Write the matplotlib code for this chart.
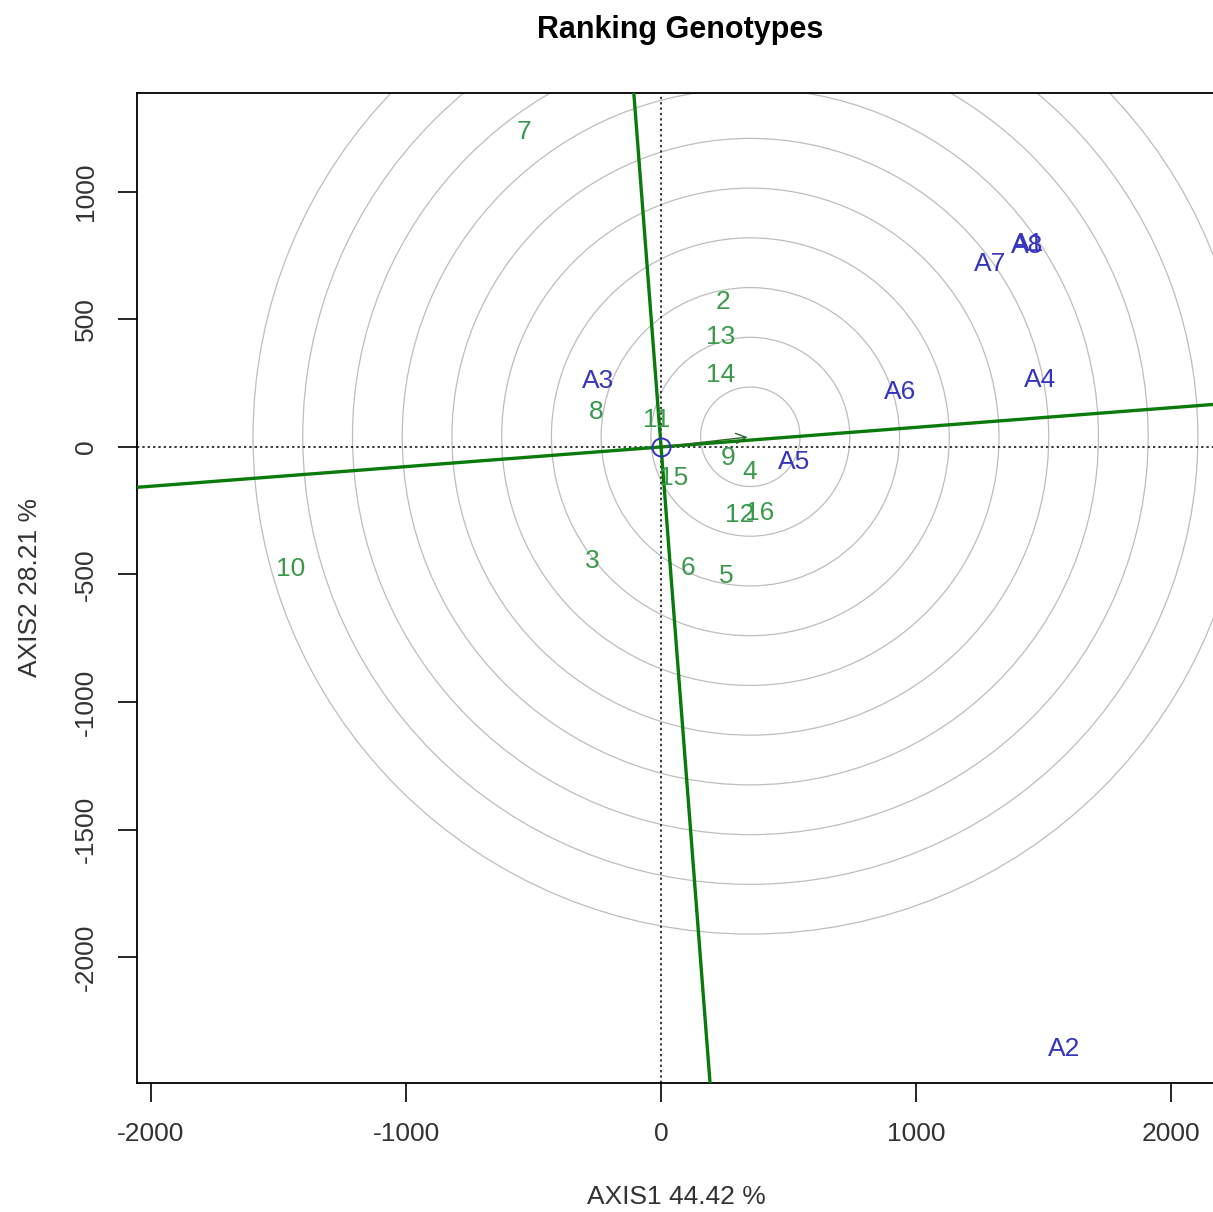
import numpy as np
import matplotlib
matplotlib.use('Agg')
import matplotlib.pyplot as plt
from matplotlib.patches import Circle

plt.rcParams['font.family'] = ['Liberation Sans', 'DejaVu Sans']
plt.rcParams['axes.unicode_minus'] = False

# Genotype scores (AXIS1, AXIS2)
gen_labels = ['7', '2', '13', '14', '8', '11', '15', '9', '4', '12', '16', '3', '6', '5', '10']
gen_x = [-539, 242, 234, 234, -254, -16, 51, 262, 348, 309, 387, -270, 105, 254, -1453]
gen_y = [1235, 569, 431, 282, 137, 106, -122, -43, -98, -267, -259, -447, -475, -506, -478]

# Environment scores
env_labels = ['A3', 'A6', 'A4', 'A7', 'A8', 'A1', 'A5', 'A2']
env_x = [-246, 938, 1488, 1289, 1434, 1440, 520, 1582]
env_y = [259, 216, 263, 718, 788, 796, -59, -2361]

# average environment point / ideal genotype centre
aea_x, aea_y = 350, 40
ring_step = 195
n_rings = 10
aea_slope = 0.077

W, H = 1213, 1212
fig = plt.figure(figsize=(W / 100, H / 100), dpi=100)
xlim = (-2055, 2250)
ylim = (-2494, 1388)
left, bottom, top = 137, 1083, 93
scale = (bottom - top) / (ylim[1] - ylim[0])
right = left + (xlim[1] - xlim[0]) * scale
ax = fig.add_axes([left / W, 1 - bottom / H, (right - left) / W, (bottom - top) / H])
ax.set_xlim(*xlim)
ax.set_ylim(*ylim)

# concentric circles
for i in range(1, n_rings + 1):
    ax.add_patch(Circle((aea_x, aea_y), ring_step * i, fill=False,
                        ec='#bdbdbd', lw=0.9, zorder=1))

# reference dotted axes
ax.axhline(0, color='black', ls=(0, (1.5, 2)), lw=1.1, zorder=2)
ax.axvline(0, color='black', ls=(0, (1.5, 2)), lw=1.1, zorder=2)

# average environment axis and its perpendicular
xx = np.array([-3000, 3000])
ax.plot(xx, aea_slope * xx, color='#0a7a0a', lw=2.4, zorder=3)
yy = np.array([-3000, 3000])
ax.plot(-aea_slope * yy, yy, color='#0a7a0a', lw=2.4, zorder=3)
ax.annotate('', xy=(aea_x, aea_y), xytext=(0, 0),
            arrowprops=dict(arrowstyle='->', color='#2a6a2a', lw=1.0,
                            mutation_scale=18), zorder=4)

# origin marker
ax.plot(0, 0, 'o', mfc='none', mec='#3333bb', ms=13, mew=1.4, zorder=5)

for lab, x, y in zip(gen_labels, gen_x, gen_y):
    ax.text(x, y, lab, color='#3a9a4a', fontsize=19, ha='center', va='center', zorder=6)
for lab, x, y in zip(env_labels, env_x, env_y):
    ax.text(x, y, lab, color='#3535c0', fontsize=19, ha='center', va='center', zorder=6)

# R-like axes
ax.spines['right'].set_visible(False)
for s in ['left', 'bottom', 'top']:
    ax.spines[s].set_linewidth(1.3)
ax.set_xticks([-2000, -1000, 0, 1000, 2000])
ax.set_yticks([-2000, -1500, -1000, -500, 0, 500, 1000])
ax.tick_params(direction='out', length=14, width=1.2, labelsize=19, pad=14, colors='black')
ax.tick_params(axis='both', labelcolor='#333333')
plt.setp(ax.get_yticklabels(), rotation=90, va='center')

fig.text(676 / W, 1 - 1197 / H, 'AXIS1 44.42 %', fontsize=19, color='#333333', ha='center', va='center')
fig.text(30 / W, 1 - 587 / H, 'AXIS2 28.21 %', fontsize=19, color='#333333', ha='center', va='center', rotation=90)
fig.text(680 / W, 1 - 30 / H, 'Ranking Genotypes', fontsize=22, fontweight='bold', ha='center', va='center')

fig.savefig('out.png', dpi=100)
